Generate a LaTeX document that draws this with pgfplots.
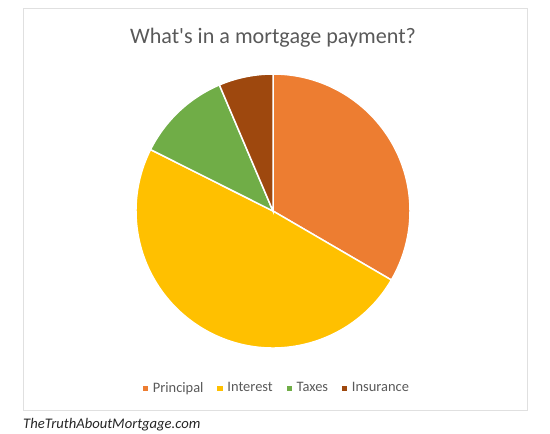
\documentclass[border=0pt]{standalone}
\usepackage{pgfplots}
\pgfplotsset{compat=1.18}
\usepackage{pgfplotstable}
\usepackage{fontspec}
\setmainfont{Carlito}[Ligatures=TeXOff]

\definecolor{principal}{HTML}{ED7D31}
\definecolor{interest}{HTML}{FFC000}
\definecolor{taxes}{HTML}{70AD47}
\definecolor{insurance}{HTML}{9E480E}
\definecolor{textgray}{HTML}{595959}

% share of the payment, in percent
\pgfplotstableread{
label     value
Principal 33.4
Interest  49.0
Taxes     11.2
Insurance 6.4
}\piedata

\begin{document}
\begin{tikzpicture}
  % slice angles, clockwise from 12 o'clock
  \pgfplotstablegetelem{0}{value}\of\piedata \let\vA\pgfplotsretval
  \pgfplotstablegetelem{1}{value}\of\piedata \let\vB\pgfplotsretval
  \pgfplotstablegetelem{2}{value}\of\piedata \let\vC\pgfplotsretval
  \pgfplotstablegetelem{3}{value}\of\piedata \let\vD\pgfplotsretval
  \pgfmathsetmacro\aA{90}
  \pgfmathsetmacro\aB{\aA-3.6*\vA}
  \pgfmathsetmacro\aC{\aB-3.6*\vB}
  \pgfmathsetmacro\aD{\aC-3.6*\vC}
  \pgfmathsetmacro\aE{\aD-3.6*\vD}
  \def\r{137bp}
  \begin{axis}[
      width=550bp, height=433bp, scale only axis,
      xmin=0, xmax=550, ymin=0, ymax=433,
      axis lines=none, clip=false,
      legend style={
        at={(axis cs:277,45)}, anchor=center, draw=none, fill=none,
        font=\fontsize{14.5}{17}\selectfont, text=textgray,
        /tikz/every odd column/.append style={column sep=3.5bp},
        /tikz/every even column/.append style={column sep=12bp},
      },
      legend columns=4,
      legend cell align=left,
    ]
    \addlegendimage{only marks, mark=square*, mark size=2.2bp, color=principal}
    \addlegendentry{Principal}
    \addlegendimage{only marks, mark=square*, mark size=2.2bp, color=interest}
    \addlegendentry{Interest}
    \addlegendimage{only marks, mark=square*, mark size=2.2bp, color=taxes}
    \addlegendentry{Taxes}
    \addlegendimage{only marks, mark=square*, mark size=2.2bp, color=insurance}
    \addlegendentry{Insurance}

    % whole picture, so the page keeps the reference's size
    \path (axis cs:0,0) rectangle (axis cs:550,433);
    \draw[black!12, line width=0.8bp] (axis cs:23,23) rectangle (axis cs:527,425);

    \fill[principal, draw=white, line width=1.5bp] (axis cs:273,222) -- ++(\aA:\r)
      arc[start angle=\aA, end angle=\aB, radius=\r] -- cycle;
    \fill[interest, draw=white, line width=1.5bp] (axis cs:273,222) -- ++(\aB:\r)
      arc[start angle=\aB, end angle=\aC, radius=\r] -- cycle;
    \fill[taxes, draw=white, line width=1.5bp] (axis cs:273,222) -- ++(\aC:\r)
      arc[start angle=\aC, end angle=\aD, radius=\r] -- cycle;
    \fill[insurance, draw=white, line width=1.5bp] (axis cs:273,222) -- ++(\aD:\r)
      arc[start angle=\aD, end angle=\aE, radius=\r] -- cycle;

    \node[text=textgray, font=\fontsize{22.2}{26}\selectfont] at (axis cs:273,395)
      {What's in a mortgage payment?};
    \node[anchor=base west, inner sep=0pt, font=\itshape\fontsize{14.7}{17}\selectfont, text=black!85]
      at (axis cs:23,5) {TheTruthAboutMortgage.com};
  \end{axis}
\end{tikzpicture}
\end{document}
